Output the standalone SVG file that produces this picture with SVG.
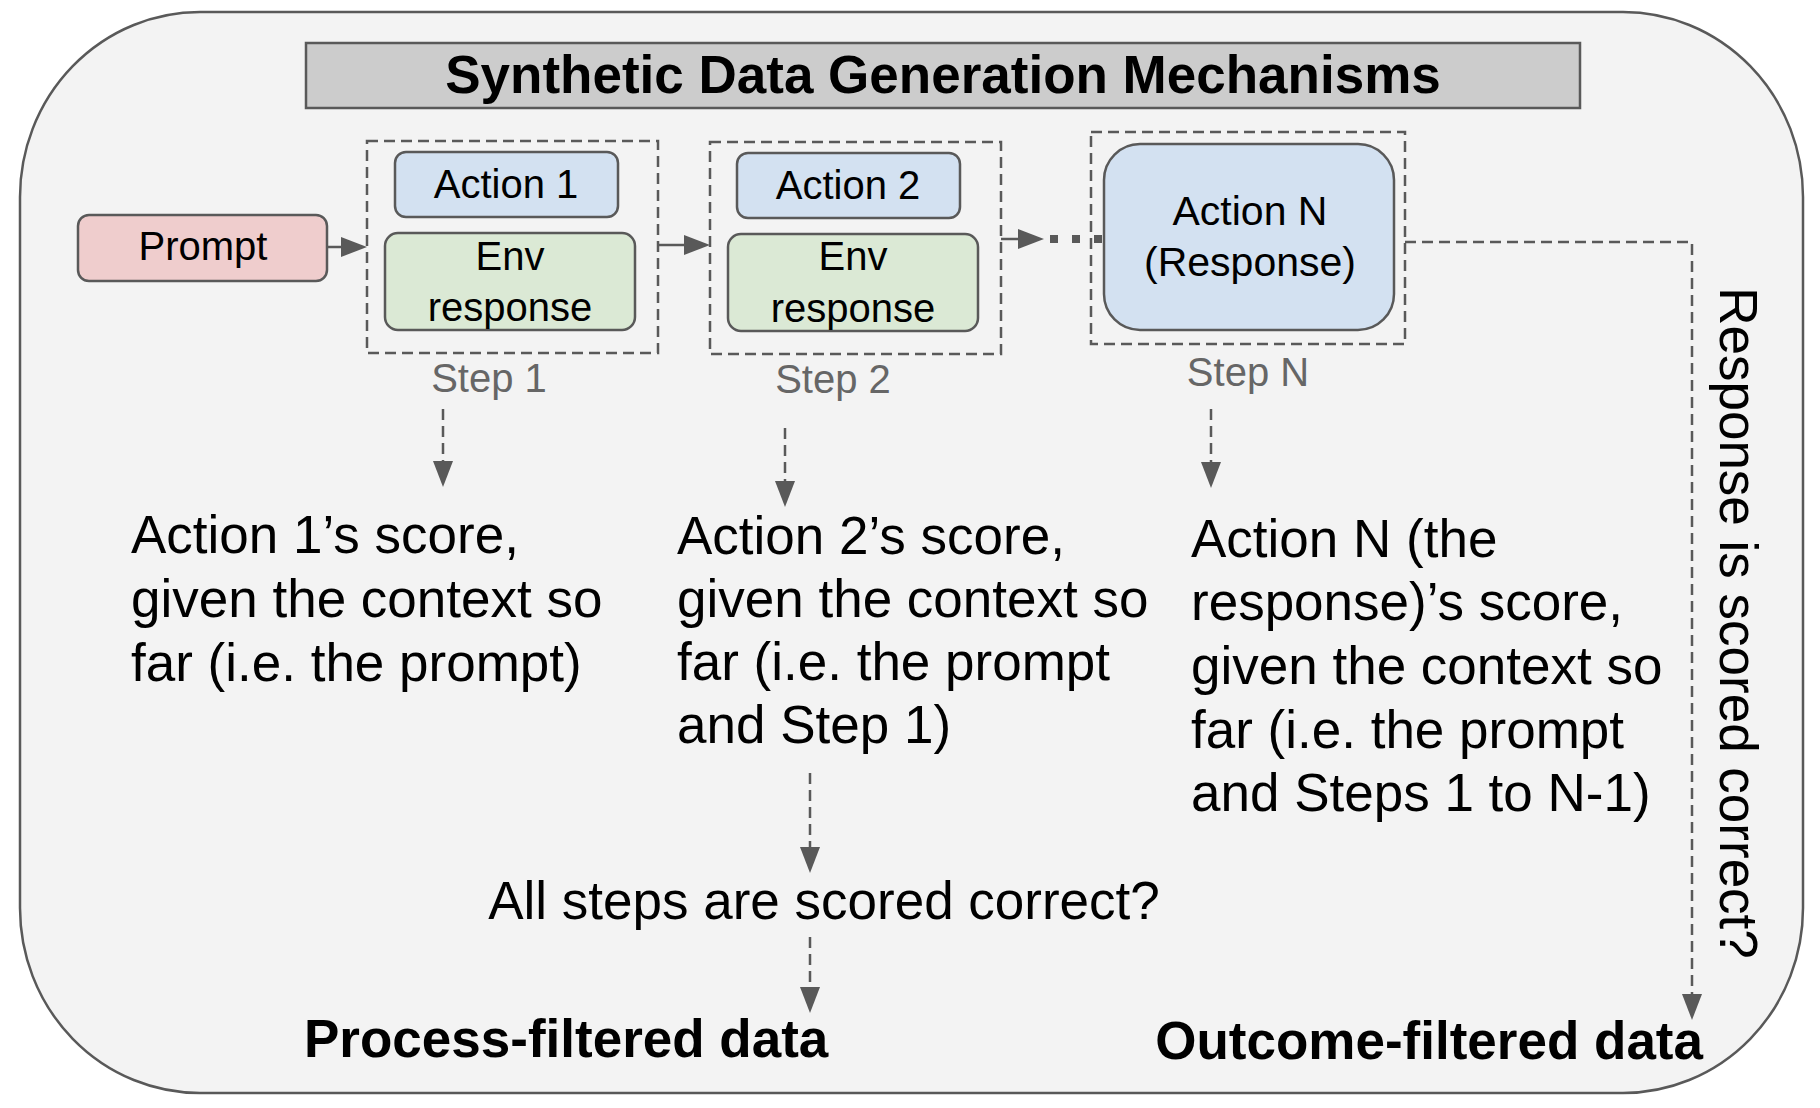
<svg xmlns="http://www.w3.org/2000/svg" width="1820" height="1108" viewBox="0 0 1820 1108">
<defs>
<style>
.t{font-family:"Liberation Sans",Arial,sans-serif;fill:#000}
.n{font-size:40px;text-anchor:middle}
.b{font-size:53px}
.bold{font-weight:bold}
.step{font-family:"Liberation Sans",Arial,sans-serif;font-size:40px;fill:#666666;text-anchor:middle}
.box{stroke:#595959;stroke-width:2.5}
.dbox{fill:none;stroke:#595959;stroke-width:2.5;stroke-dasharray:11 6}
.conn{fill:none;stroke:#595959;stroke-width:2.5}
.dash{stroke-dasharray:11 6}
</style>
<marker id="arr" viewBox="0 0 26 20" refX="0" refY="10" markerWidth="26" markerHeight="20" markerUnits="userSpaceOnUse" orient="auto">
<path d="M0,0 L26,10 L0,20 z" fill="#595959"/>
</marker>
</defs>

<g id="frame">
<rect x="20" y="12" width="1783" height="1081" rx="180" ry="185" fill="#f3f3f3" stroke="#595959" stroke-width="2.5"/>
</g>

<g id="title">
<rect x="306" y="43" width="1274" height="65" fill="#cccccc" stroke="#595959" stroke-width="2.5"/>
<text class="t b bold" x="943" y="93" text-anchor="middle">Synthetic Data Generation Mechanisms</text>
</g>

<g id="prompt">
<rect class="box" x="78" y="215" width="249" height="66" rx="11" fill="#efcdcd"/>
<text class="t n" x="203" y="260">Prompt</text>
</g>

<g id="step1">
<rect class="dbox" x="367" y="141" width="291" height="212"/>
<rect class="box" x="395" y="152" width="223" height="65" rx="11" fill="#d3e1f1"/>
<text class="t n" x="506" y="198">Action 1</text>
<rect class="box" x="385" y="233" width="250" height="97" rx="13" fill="#dbe9d5"/>
<text class="t n" x="510" y="270">Env</text>
<text class="t n" x="510" y="321">response</text>
<text class="step" x="489" y="392">Step 1</text>
</g>

<g id="step2">
<rect class="dbox" x="710" y="142" width="291" height="212"/>
<rect class="box" x="737" y="153" width="223" height="65" rx="11" fill="#d3e1f1"/>
<text class="t n" x="848" y="199">Action 2</text>
<rect class="box" x="728" y="234" width="250" height="97" rx="13" fill="#dbe9d5"/>
<text class="t n" x="853" y="270">Env</text>
<text class="t n" x="853" y="322">response</text>
<text class="step" x="833" y="393">Step 2</text>
</g>

<g id="stepN">
<rect class="dbox" x="1091" y="132" width="314" height="212"/>
<rect class="box" x="1104" y="144" width="290" height="186" rx="36" fill="#d3e1f1"/>
<text class="t" x="1250" y="225" font-size="41" text-anchor="middle">Action N</text>
<text class="t" x="1250" y="276" font-size="41" text-anchor="middle">(Response)</text>
<text class="step" x="1248" y="386">Step N</text>
</g>

<g id="score1">
<text class="t b" x="131" y="553">Action 1’s score,</text>
<text class="t b" x="131" y="617">given the context so</text>
<text class="t b" x="131" y="681">far (i.e. the prompt)</text>
</g>

<g id="score2">
<text class="t b" x="677" y="554">Action 2’s score,</text>
<text class="t b" x="677" y="617">given the context so</text>
<text class="t b" x="677" y="680">far (i.e. the prompt</text>
<text class="t b" x="677" y="743">and Step 1)</text>
</g>

<g id="scoreN">
<text class="t b" x="1191" y="557">Action N (the</text>
<text class="t b" x="1191" y="620">response)’s score,</text>
<text class="t b" x="1191" y="684">given the context so</text>
<text class="t b" x="1191" y="748">far (i.e. the prompt</text>
<text class="t b" x="1191" y="811">and Steps 1 to N-1)</text>
</g>

<g id="allsteps">
<text class="t b" x="824" y="919" text-anchor="middle">All steps are scored correct?</text>
</g>

<g id="process">
<text class="t b bold" x="304" y="1057">Process-filtered data</text>
</g>

<g id="outcome">
<text class="t b bold" x="1703" y="1059" text-anchor="end">Outcome-filtered data</text>
</g>

<g id="responseq">
<text class="t b" transform="translate(1720,623) rotate(90)" x="0" y="0" text-anchor="middle">Response is scored correct?</text>
</g>

<g id="connectors">
<line class="conn" x1="327" y1="247" x2="341" y2="247" marker-end="url(#arr)"/>
<line class="conn" x1="658" y1="245" x2="684" y2="245" marker-end="url(#arr)"/>
<line class="conn" x1="1001" y1="239" x2="1018" y2="239" marker-end="url(#arr)"/>
<line x1="1050" y1="239" x2="1104" y2="239" stroke="#595959" stroke-width="8" stroke-dasharray="8 14"/>
<line class="conn dash" x1="443" y1="409" x2="443" y2="461" marker-end="url(#arr)"/>
<line class="conn dash" x1="785" y1="428" x2="785" y2="481" marker-end="url(#arr)"/>
<line class="conn dash" x1="1211" y1="409" x2="1211" y2="462" marker-end="url(#arr)"/>
<line class="conn dash" x1="810" y1="773" x2="810" y2="847" marker-end="url(#arr)"/>
<line class="conn dash" x1="810" y1="937" x2="810" y2="987" marker-end="url(#arr)"/>
<path class="conn dash" d="M1405,242 H1692 V994" marker-end="url(#arr)"/>
</g>
</svg>
